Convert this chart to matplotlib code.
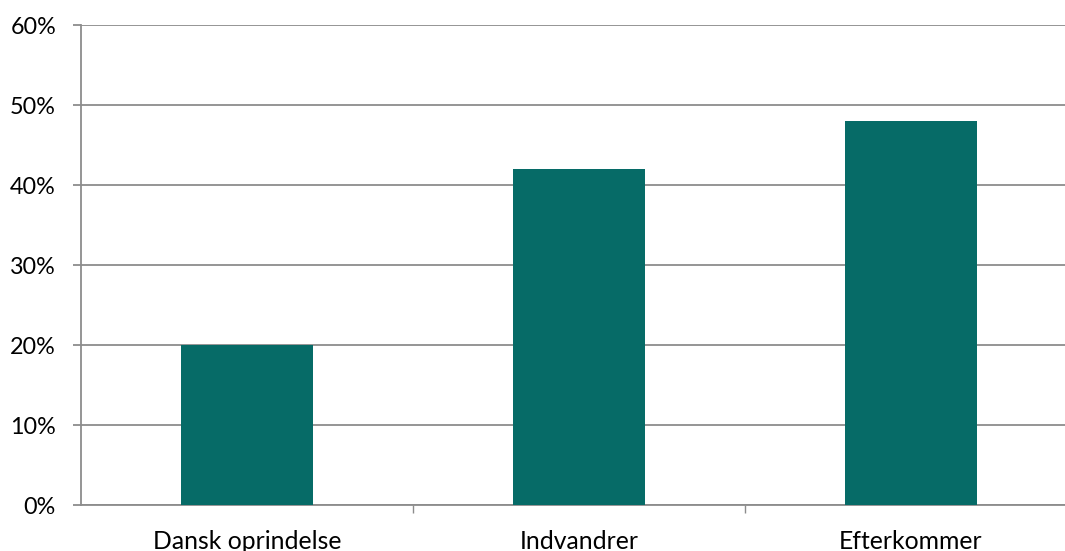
import matplotlib.pyplot as plt
import numpy as np
from matplotlib.ticker import PercentFormatter

categories = ["Dansk oprindelse", "Indvandrer", "Efterkommer"]
shares = [20, 42, 48]
y_ticks = [0, 10, 20, 30, 40, 50, 60]

plt.rcParams['font.family'] = ['Lato', 'DejaVu Sans']

W, H = 1065, 551
fig = plt.figure(figsize=(W / 100, H / 100), dpi=100)
# plot area runs past the right image edge, as in the original
ax = fig.add_axes([81 / W, (H - 505) / H, 996 / W, 480 / H])

x = np.arange(len(categories))
ax.bar(x, shares, width=0.4, color="#066B67", zorder=3)

ax.set_xlim(-0.5, len(categories) - 0.5)
ax.set_ylim(0, 60)
ax.set_yticks(y_ticks)
ax.yaxis.set_major_formatter(PercentFormatter(decimals=0))
ax.yaxis.grid(True, color="#8c8c8c", linewidth=1.3, zorder=0)

ax.set_xticks(x)
ax.set_xticklabels(categories)
ax.set_xticks(np.arange(0.5, len(categories) - 0.5, 1), minor=True)
ax.tick_params(axis="x", which="major", length=0, pad=18, labelsize=17.8)
ax.tick_params(axis="x", which="minor", length=6, width=1, color="#8c8c8c", direction="out")
ax.tick_params(axis="y", length=6, width=1.3, color="#8c8c8c", pad=12, labelsize=16.8)

for side in ["top", "right"]:
    ax.spines[side].set_visible(False)
for side in ["left", "bottom"]:
    ax.spines[side].set_color("#8c8c8c")
    ax.spines[side].set_linewidth(1.3)

fig.savefig("out.png", dpi=100)
